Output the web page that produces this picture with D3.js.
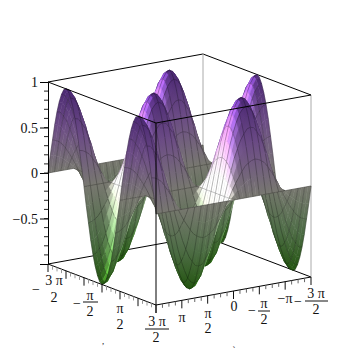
<!DOCTYPE html>
<html>
<head>
<meta charset="utf-8">
<script src="https://cdn.jsdelivr.net/npm/d3@7/dist/d3.min.js"></script>
<style>
  body { margin: 0; background: #fff; }
  text { font-family: 'Liberation Serif', serif; fill: #111; }
</style>
</head>
<body>
<div id="chart"></div>
<script>
const H = (3 * Math.PI) / 2

// surface heights, one list per x gridline, one column per y gridline
const r0 = [0,0,0,0,0,0,0,0,0,0,0,0,0,0,0,0,0,0,0,0,0,0,0,0,0,0,0,0,0,0,0,0,0,0,0,0,0,0,0,0,0,0,0,0,0,0,0,0,0]
const p20 = [.2,.2,.18,.17,.14,.11,.08,.04,0,-.04,-.08,-.11,-.14,-.17,-.18,-.2,-.2,-.2,-.18,-.17,-.14,-.11,-.08,-.04,0,.04,.08,.11,.14,.17,.18,.2,.2,.2,.18,.17,.14,.11,.08,.04,0,-.04,-.08,-.11,-.14,-.17,-.18,-.2,-.2]
const p38 = [.38,.37,.35,.32,.27,.21,.15,.08,0,-.08,-.15,-.21,-.27,-.32,-.35,-.37,-.38,-.37,-.35,-.32,-.27,-.21,-.15,-.08,0,.08,.15,.21,.27,.32,.35,.37,.38,.37,.35,.32,.27,.21,.15,.08,0,-.08,-.15,-.21,-.27,-.32,-.35,-.37,-.38]
const p56 = [.56,.55,.52,.46,.4,.31,.21,.11,0,-.11,-.21,-.31,-.4,-.46,-.52,-.55,-.56,-.55,-.52,-.46,-.4,-.31,-.21,-.11,0,.11,.21,.31,.4,.46,.52,.55,.56,.55,.52,.46,.4,.31,.21,.11,0,-.11,-.21,-.31,-.4,-.46,-.52,-.55,-.56]
const p71 = [.71,.7,.65,.59,.5,.4,.27,.14,0,-.14,-.27,-.4,-.5,-.59,-.65,-.7,-.71,-.7,-.65,-.59,-.5,-.4,-.27,-.14,0,.14,.27,.4,.5,.59,.65,.7,.71,.7,.65,.59,.5,.4,.27,.14,0,-.14,-.27,-.4,-.5,-.59,-.65,-.7,-.71]
const p83 = [.83,.81,.76,.69,.59,.46,.32,.17,0,-.17,-.32,-.46,-.59,-.69,-.76,-.81,-.83,-.81,-.76,-.69,-.59,-.46,-.32,-.17,0,.17,.32,.46,.59,.69,.76,.81,.83,.81,.76,.69,.59,.46,.32,.17,0,-.17,-.32,-.46,-.59,-.69,-.76,-.81,-.83]
const p92 = [.92,.9,.85,.76,.65,.52,.35,.18,0,-.18,-.35,-.52,-.65,-.76,-.85,-.9,-.92,-.9,-.85,-.76,-.65,-.52,-.35,-.18,0,.18,.35,.52,.65,.76,.85,.9,.92,.9,.85,.76,.65,.52,.35,.18,0,-.18,-.35,-.52,-.65,-.76,-.85,-.9,-.92]
const p98 = [.98,.96,.9,.81,.7,.55,.37,.2,0,-.2,-.37,-.55,-.7,-.81,-.9,-.96,-.98,-.96,-.9,-.81,-.7,-.55,-.37,-.2,0,.2,.37,.55,.7,.81,.9,.96,.98,.96,.9,.81,.7,.55,.37,.2,0,-.2,-.37,-.55,-.7,-.81,-.9,-.96,-.98]
const p100 = [1,.98,.92,.83,.71,.56,.38,.2,0,-.2,-.38,-.56,-.71,-.83,-.92,-.98,-1,-.98,-.92,-.83,-.71,-.56,-.38,-.2,0,.2,.38,.56,.71,.83,.92,.98,1,.98,.92,.83,.71,.56,.38,.2,0,-.2,-.38,-.56,-.71,-.83,-.92,-.98,-1]
const n20 = [-.2,-.2,-.18,-.17,-.14,-.11,-.08,-.04,0,.04,.08,.11,.14,.17,.18,.2,.2,.2,.18,.17,.14,.11,.08,.04,0,-.04,-.08,-.11,-.14,-.17,-.18,-.2,-.2,-.2,-.18,-.17,-.14,-.11,-.08,-.04,0,.04,.08,.11,.14,.17,.18,.2,.2]
const n38 = [-.38,-.37,-.35,-.32,-.27,-.21,-.15,-.08,0,.08,.15,.21,.27,.32,.35,.37,.38,.37,.35,.32,.27,.21,.15,.08,0,-.08,-.15,-.21,-.27,-.32,-.35,-.37,-.38,-.37,-.35,-.32,-.27,-.21,-.15,-.08,0,.08,.15,.21,.27,.32,.35,.37,.38]
const n56 = [-.56,-.55,-.52,-.46,-.4,-.31,-.21,-.11,0,.11,.21,.31,.4,.46,.52,.55,.56,.55,.52,.46,.4,.31,.21,.11,0,-.11,-.21,-.31,-.4,-.46,-.52,-.55,-.56,-.55,-.52,-.46,-.4,-.31,-.21,-.11,0,.11,.21,.31,.4,.46,.52,.55,.56]
const n71 = [-.71,-.7,-.65,-.59,-.5,-.4,-.27,-.14,0,.14,.27,.4,.5,.59,.65,.7,.71,.7,.65,.59,.5,.4,.27,.14,0,-.14,-.27,-.4,-.5,-.59,-.65,-.7,-.71,-.7,-.65,-.59,-.5,-.4,-.27,-.14,0,.14,.27,.4,.5,.59,.65,.7,.71]
const n83 = [-.83,-.81,-.76,-.69,-.59,-.46,-.32,-.17,0,.17,.32,.46,.59,.69,.76,.81,.83,.81,.76,.69,.59,.46,.32,.17,0,-.17,-.32,-.46,-.59,-.69,-.76,-.81,-.83,-.81,-.76,-.69,-.59,-.46,-.32,-.17,0,.17,.32,.46,.59,.69,.76,.81,.83]
const n92 = [-.92,-.9,-.85,-.76,-.65,-.52,-.35,-.18,0,.18,.35,.52,.65,.76,.85,.9,.92,.9,.85,.76,.65,.52,.35,.18,0,-.18,-.35,-.52,-.65,-.76,-.85,-.9,-.92,-.9,-.85,-.76,-.65,-.52,-.35,-.18,0,.18,.35,.52,.65,.76,.85,.9,.92]
const n98 = [-.98,-.96,-.9,-.81,-.7,-.55,-.37,-.2,0,.2,.37,.55,.7,.81,.9,.96,.98,.96,.9,.81,.7,.55,.37,.2,0,-.2,-.37,-.55,-.7,-.81,-.9,-.96,-.98,-.96,-.9,-.81,-.7,-.55,-.37,-.2,0,.2,.37,.55,.7,.81,.9,.96,.98]
const n100 = [-1,-.98,-.92,-.83,-.71,-.56,-.38,-.2,0,.2,.38,.56,.71,.83,.92,.98,1,.98,.92,.83,.71,.56,.38,.2,0,-.2,-.38,-.56,-.71,-.83,-.92,-.98,-1,-.98,-.92,-.83,-.71,-.56,-.38,-.2,0,.2,.38,.56,.71,.83,.92,.98,1]

const zRows = [
  r0,n20,n38,n56,n71,n83,n92,n98,n100,n98,n92,n83,n71,n56,n38,n20,
  r0,p20,p38,p56,p71,p83,p92,p98,p100,p98,p92,p83,p71,p56,p38,p20,
  r0,n20,n38,n56,n71,n83,n92,n98,n100,n98,n92,n83,n71,n56,n38,n20,
  r0
]

const zMajorTicks = [-1, -0.5, 0, 0.5, 1]
const zTickLabels = ['', '\u22120.5', '0', '0.5', '1']

let width = 355
let height = 355
let last = zRows.length - 1

let svg = d3
  .select('#chart')
  .append('svg')
  .attr('width', width)
  .attr('height', height)

// box is drawn in a fixed parallel projection, front bottom corner at 156,305
let xToPx = d3.scaleLinear().domain([-H, H]).range([-108, 0])
let xToPy = d3.scaleLinear().domain([-H, H]).range([-41, 0])
let yToPx = d3.scaleLinear().domain([H, -H]).range([0, 155])
let yToPy = d3.scaleLinear().domain([H, -H]).range([0, -28])
let zScale = d3.scaleLinear().domain([-1, 1]).range([264, 82])
let zToPy = d3.scaleLinear().domain([-1, 1]).range([0, -182])

function project(x, y, z) {
  return [156 + xToPx(x) + yToPx(y), 305 + xToPy(x) + yToPy(y) + zToPy(z)]
}

let gridValue = d3.scaleLinear().domain([0, last]).range([-H, H])
let baseColor = d3
  .scaleLinear()
  .domain([-1, -0.5, 0, 0.5, 1])
  .range(['#22560f', '#52704a', '#7a7a72', '#70508a', '#4c2874'])

let light = [-0.1, 0.92, 0.28]

function vertex(i, j) {
  let zHere = zRows[i][j]
  let dzu = (zRows[Math.min(i + 1, last)][j] - zRows[Math.max(i - 1, 0)][j]) * 12
  let dzv = (zRows[i][Math.min(j + 1, last)] - zRows[i][Math.max(j - 1, 0)]) * 12
  let len = Math.hypot(dzu, dzv, 1)
  let dot = (-dzu * light[0] - dzv * light[1] + light[2]) / len
  let lit = 0.98 + 1.9 * Math.pow(Math.max(0, dot), 5)
  let c = d3.rgb(baseColor(zHere))
  let color = d3.rgb(c.r * lit, c.g * lit, c.b * lit).formatHex()
  let p = project(gridValue(i), gridValue(j), zHere)
  return { x: p[0], y: p[1], color }
}

let cells = []
for (let i = 0; i < last; i++) {
  for (let j = 0; j < last; j++) {
    let a = vertex(i, j)
    let b = vertex(i + 1, j)
    let c = vertex(i + 1, j + 1)
    let d = vertex(i, j + 1)
    // mesh is on every second sample line
    let mesh = []
    if (i % 2 === 0) mesh.push([a, d])
    if (j % 2 === 0) mesh.push([a, b])
    if (i + 1 === last) mesh.push([b, c])
    if (j + 1 === last) mesh.push([d, c])
    cells.push({ id: `c${i}-${j}`, pts: [a, b, c, d], mesh })
  }
}

let pathOf = d => 'M' + d.pts.map(p => `${p.x},${p.y}`).join('L') + 'Z'
let meshOf = d => d.mesh.map(s => `M${s[0].x},${s[0].y}L${s[1].x},${s[1].y}`).join('')

function drawEdges(parent, edges, color, w) {
  parent
    .selectAll('.edge')
    .data(edges)
    .enter()
    .append('line')
    .attr('x1', d => d[0][0])
    .attr('y1', d => d[0][1])
    .attr('x2', d => d[1][0])
    .attr('y2', d => d[1][1])
    .attr('stroke', color)
    .attr('stroke-width', w)
}

// back of the box, behind the surface
let LB = project(-H, H, -1)
let FB = project(H, H, -1)
let RB = project(H, -H, -1)
let BB = project(-H, -H, -1)
let LT = project(-H, H, 1)
let FT = project(H, H, 1)
let RT = project(H, -H, 1)
let BT = project(-H, -H, 1)

drawEdges(svg.append('g'), [[LT, BT], [BT, RT], [LB, BB], [BB, RB]], '#000', 1)
drawEdges(svg.append('g'), [[BT, BB], [RT, RB]], '#aaa', 1)

let defs = svg.append('defs')

defs
  .selectAll('linearGradient')
  .data(cells)
  .enter()
  .append('linearGradient')
  .attr('id', d => d.id)
  .attr('gradientUnits', 'userSpaceOnUse')
  .each(function(d) {
    let top = d3.least(d.pts, p => p.y)
    let bottom = d3.greatest(d.pts, p => p.y)
    let g = d3.select(this)
    g.attr('x1', top.x).attr('y1', top.y).attr('x2', bottom.x).attr('y2', bottom.y)
    g.append('stop').attr('offset', 0).attr('stop-color', top.color)
    g.append('stop').attr('offset', 1).attr('stop-color', bottom.color)
  })

// cells go back to front, so nearer hills cover what is behind them
let cellGroups = svg
  .append('g')
  .selectAll('g')
  .data(cells)
  .enter()
  .append('g')

cellGroups
  .append('path')
  .attr('d', pathOf)
  .attr('fill', d => `url(#${d.id})`)
  .attr('stroke', d => `url(#${d.id})`)
  .attr('stroke-width', 0.5)

cellGroups
  .filter(d => d.mesh.length > 0)
  .append('path')
  .attr('d', meshOf)
  .attr('fill', 'none')
  .attr('stroke', '#000')
  .attr('stroke-opacity', 0.42)
  .attr('stroke-width', 0.6)

// front of the box, over the surface
drawEdges(svg.append('g'), [[LT, FT], [FT, RT], [LB, FB], [FB, RB], [FT, FB]], '#000', 1)

// z axis
let zAxis = svg.append('g').attr('transform', 'translate(48,0)')
zAxis.call(
  d3
    .axisLeft(zScale)
    .tickValues(zMajorTicks)
    .tickFormat((d, i) => zTickLabels[i])
    .tickSize(8)
)
zAxis.selectAll('text').attr('font-size', 14).attr('x', -10).attr('dy', '0.34em')
zAxis.select('.domain').attr('stroke', '#000')

let zMinor = d3.range(-9, 10).map(d => d / 10)
zAxis
  .selectAll('.zminor')
  .data(zMinor)
  .enter()
  .append('line')
  .attr('x1', -4)
  .attr('x2', 0)
  .attr('y1', d => zScale(d))
  .attr('y2', d => zScale(d))
  .attr('stroke', '#222')

// the two floor axes, ticks every pi/8, long every pi/2
let floorTicks = d3.range(0, last + 1, 2).map(k => ({ k, v: gridValue(k) }))

svg
  .append('g')
  .selectAll('line')
  .data(floorTicks)
  .enter()
  .append('line')
  .attr('x1', d => project(d.v, H, -1)[0])
  .attr('x2', d => project(d.v, H, -1)[0])
  .attr('y1', d => project(d.v, H, -1)[1])
  .attr('y2', d => project(d.v, H, -1)[1] + (d.k % 8 === 0 ? 8 : 4))
  .attr('stroke', d => (d.k % 8 === 0 ? '#111' : '#999'))

svg
  .append('g')
  .selectAll('line')
  .data(floorTicks)
  .enter()
  .append('line')
  .attr('x1', d => project(H, d.v, -1)[0])
  .attr('x2', d => project(H, d.v, -1)[0])
  .attr('y1', d => project(H, d.v, -1)[1])
  .attr('y2', d => project(H, d.v, -1)[1] + (d.k % 8 === 0 ? 8 : 4))
  .attr('stroke', d => (d.k % 8 === 0 ? '#111' : '#666'))

// tick labels, stacked by hand like the original
const labelTexts = [
  { t: '\u2212', x: 36, y: 289 },
  { t: '3 \u03c0', x: 54, y: 280 },
  { t: '2', x: 54, y: 297 },
  { t: '\u2212', x: 77, y: 303 },
  { t: '\u03c0', x: 90, y: 295 },
  { t: '2', x: 90, y: 311 },
  { t: '\u03c0', x: 120, y: 308 },
  { t: '2', x: 120, y: 324 },
  { t: '3 \u03c0', x: 157, y: 321 },
  { t: '2', x: 156, y: 337 },
  { t: '\u03c0', x: 182, y: 317 },
  { t: '\u03c0', x: 208, y: 313 },
  { t: '2', x: 208, y: 328 },
  { t: '0', x: 234, y: 306 },
  { t: '\u2212', x: 252, y: 310 },
  { t: '\u03c0', x: 264, y: 303 },
  { t: '2', x: 264, y: 319 },
  { t: '\u2212\u03c0', x: 285, y: 298 },
  { t: '\u2212', x: 298, y: 301 },
  { t: '3 \u03c0', x: 316, y: 293 },
  { t: '2', x: 316, y: 309 },
  { t: ',', x: 103, y: 341 },
  { t: '`', x: 234, y: 350 }
]
const labelBars = [
  { x1: 83, x2: 98, y: 302 },
  { x1: 145, x2: 169, y: 329 },
  { x1: 258, x2: 270, y: 311 },
  { x1: 305, x2: 328, y: 301 }
]

svg
  .append('g')
  .selectAll('text')
  .data(labelTexts)
  .enter()
  .append('text')
  .attr('x', d => d.x)
  .attr('y', d => d.y)
  .attr('dy', '0.34em')
  .attr('text-anchor', 'middle')
  .attr('font-size', d => (d.t === ',' || d.t === '`' ? 9 : 14))
  .text(d => d.t)

svg
  .append('g')
  .selectAll('line')
  .data(labelBars)
  .enter()
  .append('line')
  .attr('x1', d => d.x1)
  .attr('x2', d => d.x2)
  .attr('y1', d => d.y)
  .attr('y2', d => d.y)
  .attr('stroke', '#111')
</script>
</body>
</html>
